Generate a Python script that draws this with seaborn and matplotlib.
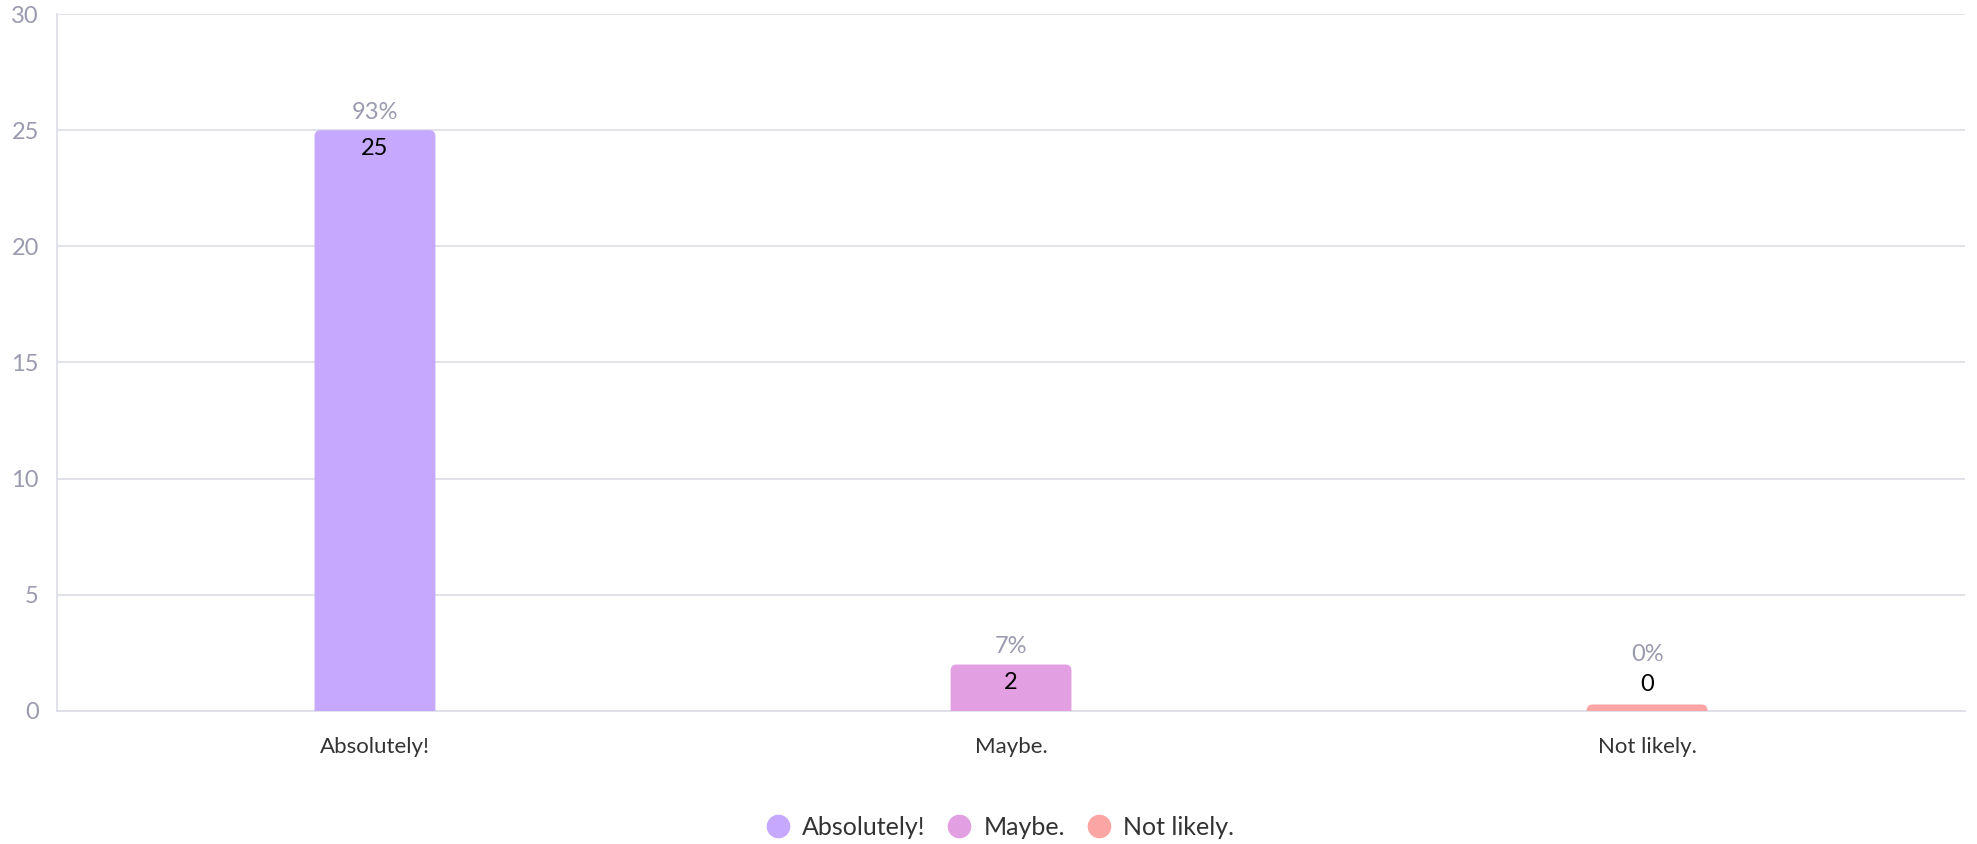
import pandas as pd
import seaborn as sns
import matplotlib.pyplot as plt
from matplotlib.patches import FancyBboxPatch
from matplotlib.lines import Line2D

categories = ["Absolutely!", "Maybe.", "Not likely."]
counts = [25, 2, 0]
colors = ["#C6A9FF", "#E2A0E2", "#FCA5A5"]
yticks = [0, 5, 10, 15, 20, 25, 30]

grid_color = "#DEDEE8"
tick_color = "#9A9AB0"
text_color = "#333333"

sns.set_style("white")
plt.rcParams["font.family"] = ["Lato", "DejaVu Sans"]

total = sum(counts)
df = pd.DataFrame({"answer": categories, "count": counts})
# tiny floor so an empty answer still shows a sliver, like the original
df["shown"] = df["count"].clip(lower=0.28)

fig = plt.figure(figsize=(19.77, 8.44), dpi=100)
ax = fig.add_axes([0.0288, 0.1576, 0.9652, 0.8258])

sns.barplot(data=df, x="answer", y="shown", hue="answer", palette=colors,
            width=0.19, legend=False, ax=ax, saturation=1)

ax.set_ylim(0, 30)
ax.set_xlim(-0.5, 2.5)

# swap plain bars for bars with rounded top corners
bbox = ax.get_window_extent()
x_per_px = 3 / bbox.width
y_per_px = 30 / bbox.height
aspect = y_per_px / x_per_px
r = 6 * x_per_px
for p, c in zip(list(ax.patches), colors):
    x, y, w, h = p.get_x(), p.get_y(), p.get_width(), p.get_height()
    p.remove()
    ax.add_patch(FancyBboxPatch((x, y - r * aspect), w, h + r * aspect,
                                boxstyle=f"round,pad=0,rounding_size={r}",
                                mutation_aspect=aspect, facecolor=c,
                                edgecolor="none", zorder=3))

for i, (v, s) in enumerate(zip(counts, df["shown"])):
    pct = f"{round(v / total * 100)}%"
    if s / y_per_px > 40:
        ax.annotate(str(v), (i, s), xytext=(0, -18), textcoords="offset pixels",
                    ha="center", va="center", fontsize=17, color="black", zorder=4)
        ax.annotate(pct, (i, s), xytext=(0, 18), textcoords="offset pixels",
                    ha="center", va="center", fontsize=17, color=tick_color, zorder=4)
    else:
        ax.annotate(str(v), (i, s), xytext=(0, 20), textcoords="offset pixels",
                    ha="center", va="center", fontsize=17, color="black", zorder=4)
        ax.annotate(pct, (i, s), xytext=(0, 50), textcoords="offset pixels",
                    ha="center", va="center", fontsize=17, color=tick_color, zorder=4)

ax.set_yticks(yticks)
ax.yaxis.grid(True, color=grid_color, linewidth=1.3, zorder=0)
ax.set_axisbelow(True)
ax.tick_params(axis="y", length=9, width=1.3, color=grid_color, labelsize=17,
               labelcolor=tick_color, pad=4)
ax.tick_params(axis="x", length=9, width=1.3, color=grid_color, labelsize=16,
               labelcolor=text_color, pad=10)
ax.set_xlabel("")
ax.set_ylabel("")
for side in ["top", "right"]:
    ax.spines[side].set_visible(False)
for side in ["left", "bottom"]:
    ax.spines[side].set_color(grid_color)
    ax.spines[side].set_linewidth(1.3)

handles = [Line2D([0], [0], marker="o", linestyle="", markersize=16,
                  markerfacecolor=c, markeredgecolor=c) for c in colors]
fig.legend(handles, categories, loc="center", bbox_to_anchor=(0.505, 0.02),
           ncol=3, frameon=False, fontsize=18, handletextpad=0.36,
           handlelength=1.2, columnspacing=0.75, labelcolor=text_color)

fig.savefig("out.png", dpi=100)
